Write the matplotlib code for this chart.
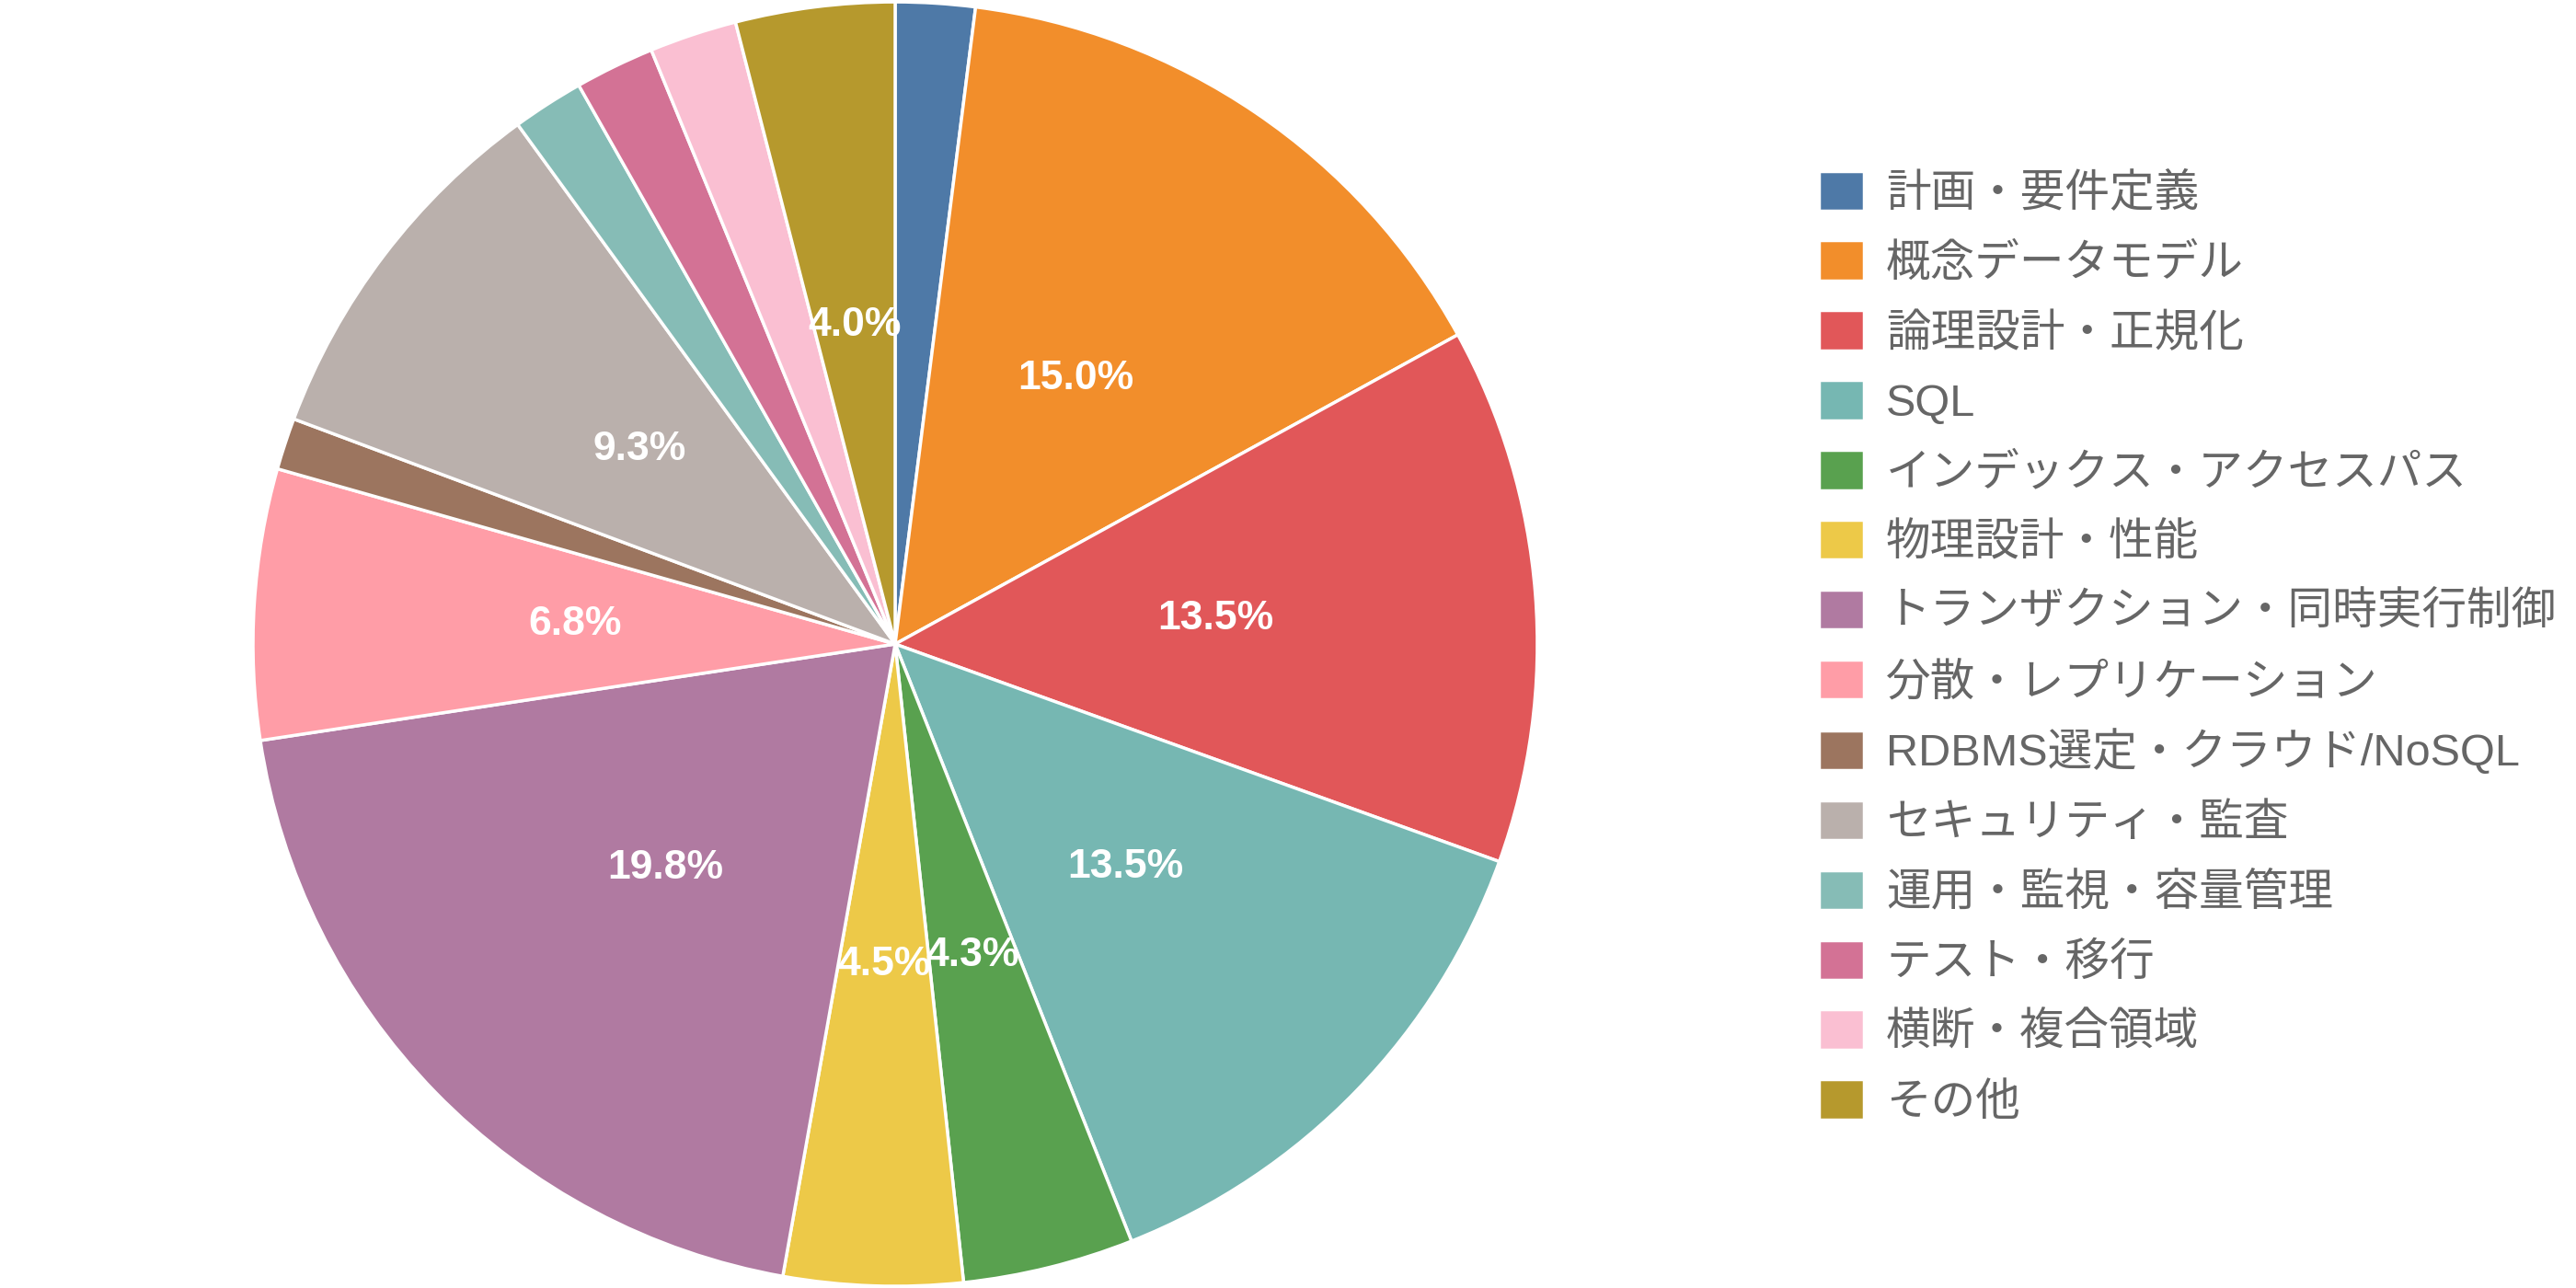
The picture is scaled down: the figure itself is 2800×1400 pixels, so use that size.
import matplotlib
matplotlib.use("Agg")
import matplotlib.pyplot as plt

plt.rcParams['font.family'] = ['Liberation Sans', 'Noto Sans CJK JP', 'DejaVu Sans']

categories = [
    "計画・要件定義", "概念データモデル", "論理設計・正規化", "SQL",
    "インデックス・アクセスパス", "物理設計・性能", "トランザクション・同時実行制御",
    "分散・レプリケーション", "RDBMS選定・クラウド/NoSQL", "セキュリティ・監査",
    "運用・監視・容量管理", "テスト・移行", "横断・複合領域", "その他",
]
shares = [2.0, 15.0, 13.5, 13.5, 4.3, 4.5, 19.8, 6.8, 1.3, 9.3, 1.8, 2.0, 2.2, 4.0]
colors = [
    "#4e79a7", "#f28e2b", "#e15759", "#76b7b2", "#59a14f", "#edc948", "#b07aa1",
    "#ff9da7", "#9c755f", "#bab0ac", "#86bcb6", "#d37295", "#fabfd2", "#b6992d",
]

fig = plt.figure(figsize=(28, 14), dpi=100)
ax = fig.add_axes([0.0982, 0.0014, 0.4986, 0.9971])

wedges, texts, autotexts = ax.pie(
    shares, colors=colors, startangle=90, counterclock=False,
    autopct=lambda p: f"{p:.1f}%" if p >= 3 else "",
    pctdistance=0.5, radius=1.0,
    wedgeprops=dict(edgecolor="white", linewidth=2.5),
    textprops=dict(color="white", fontsize=32, fontweight="bold"),
)
ax.set_xlim(-1, 1)
ax.set_ylim(-1, 1)
ax.set_aspect("equal")
ax.axis("off")

# legend on the right, small slices only show up here
leg = fig.legend(
    wedges, categories, loc="center left", bbox_to_anchor=(1977 / 2800, 0.4974),
    frameon=False, fontsize=35, borderaxespad=0, borderpad=0,
    handlelength=1.0, handleheight=1.0, handletextpad=0.5, labelspacing=0.565,
)
for t in leg.get_texts():
    t.set_color("#666666")

fig.savefig("out.png", dpi=100)
